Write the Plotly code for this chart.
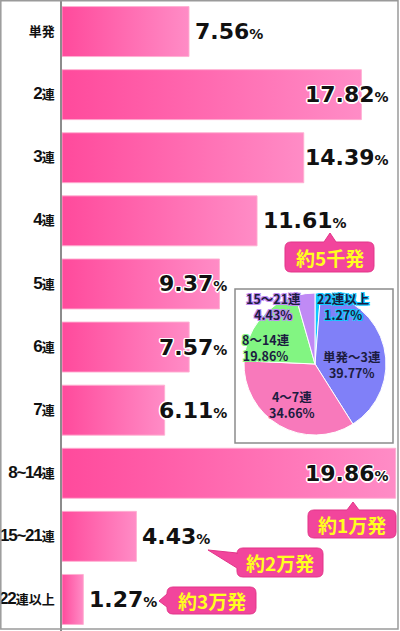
import re
import plotly.graph_objects as go

# ---------------- data ----------------
categories = ["単発", "2連", "3連", "4連", "5連", "6連", "7連", "8~14連", "15~21連", "22連以上"]
values = [7.56, 17.82, 14.39, 11.61, 9.37, 7.57, 6.11, 19.86, 4.43, 1.27]

pie_labels = ["22連以上", "単発～3連", "4～7連", "8～14連", "15～21連"]
pie_values = [1.27, 39.77, 34.66, 19.86, 4.43]

callout_texts = ["約5千発", "約1万発", "約2万発", "約3万発"]

# ---------------- geometry helpers (pixel -> paper) ----------------
W, H = 400, 631
ML, MR = 62, 2
PW = W - ML - MR


def px_x(p):
    return (p - ML) / PW


def px_y(p):
    return 1 - p / H


fig = go.Figure()

# bars with horizontal gradient
half = 0.396
for i, v in enumerate(values):
    fig.add_trace(go.Scatter(
        x=[0, v, v, 0, 0],
        y=[i - half, i - half, i + half, i + half, i - half],
        mode="lines",
        fill="toself",
        line=dict(color="rgba(255,175,210,0.9)", width=1),
        fillgradient=dict(type="horizontal",
                          colorscale=[[0, "#ff4a9c"], [1, "#ff8cc6"]]),
        hoverinfo="skip",
        showlegend=False,
    ))

# value labels
placement = ["after", "inside", "inside", "after", "box", "box", "box", "inside", "after", "after"]
outline_w = ("1px 1px 0 #fff, -1px -1px 0 #fff, 1px -1px 0 #fff, -1px 1px 0 #fff, "
             "0 1.5px 0 #fff, 0 -1.5px 0 #fff, 1.5px 0 0 #fff, -1.5px 0 0 #fff")
annotations = []
for i, (v, pl) in enumerate(zip(values, placement)):
    txt = f"{v:.2f}<span style='font-size:14px'>%</span>"
    base = dict(text=txt, y=i, yref="y", yanchor="middle", showarrow=False,
                font=dict(family="DejaVu Sans", size=22, color="#111", weight="bold",
                          shadow=outline_w))
    if pl == "after":
        base.update(x=v, xref="x", xanchor="left", xshift=4)
    elif pl == "inside":
        base.update(x=px_x(391), xref="paper", xanchor="right")
    else:
        base.update(x=px_x(229), xref="paper", xanchor="right")
    annotations.append(base)

# pie inset box + outer frame
shapes = [
    dict(type="rect", xref="paper", yref="paper",
         x0=px_x(235), x1=px_x(393), y0=px_y(443), y1=px_y(289),
         fillcolor="white", line=dict(color="#8c8c8c", width=1.5), layer="below"),
    dict(type="rect", xref="paper", yref="paper",
         x0=px_x(0.8), x1=px_x(398), y0=px_y(629), y1=px_y(0.8),
         fillcolor="rgba(0,0,0,0)", line=dict(color="#9a9a9a", width=1.5), layer="above"),
]

pie_colors = ["#10c8ff", "#8080f8", "#f879bb", "#82f582", "#c08af5"]
fig.add_trace(go.Pie(
    values=pie_values, labels=pie_labels, sort=False, direction="clockwise",
    rotation=0, textinfo="none", hoverinfo="skip", showlegend=False,
    marker=dict(colors=pie_colors, line=dict(color="white", width=1)),
    domain=dict(x=[px_x(244), px_x(386)], y=[px_y(435), px_y(293)]),
))

pie_label_pos = [(343, 306), (352, 364), (292, 404), (266, 347), (273, 306)]
for lab, val, col, (cx, cy) in zip(pie_labels, pie_values, pie_colors, pie_label_pos):
    sh = f"1px 1px 0 {col}, -1px -1px 0 {col}, 1px -1px 0 {col}, -1px 1px 0 {col}"
    annotations.append(dict(
        text=f"{lab}<br>{val:.2f}%", x=px_x(cx), y=px_y(cy), xref="paper", yref="paper",
        xanchor="center", yanchor="middle", showarrow=False, align="center",
        font=dict(family="Noto Sans CJK JP", size=12.5, color="#1c1c40", weight="bold", shadow=sh),
    ))


# callouts (rounded box + pointer)
def callout_path(x0, y0, x1, y1, r, pointer):
    kind = pointer[0]
    cmds = [("M", x0 + r, y0)]
    if kind == "up":
        _, bx0, bx1, tx, ty = pointer
        cmds += [("L", bx0, y0), ("L", tx, ty), ("L", bx1, y0)]
    cmds += [("L", x1 - r, y0), ("Q", x1, y0, x1, y0 + r), ("L", x1, y1 - r),
             ("Q", x1, y1, x1 - r, y1), ("L", x0 + r, y1), ("Q", x0, y1, x0, y1 - r)]
    if kind == "left":
        _, by0, by1, tx, ty = pointer
        cmds += [("L", x0, by1), ("L", tx, ty), ("L", x0, by0)]
    cmds += [("L", x0, y0 + r), ("Q", x0, y0, x0 + r, y0)]
    s = ""
    for c in cmds:
        op = c[0]
        coords = c[1:]
        parts = []
        for k in range(0, len(coords), 2):
            parts.append(f"{px_x(coords[k]):.5f},{px_y(coords[k + 1]):.5f}")
        s += op + " " + " ".join(parts) + " "
    return s + "Z"


callout_boxes = [
    (285, 242, 374, 272, ("up", 324, 336, 330, 233)),
    (308, 510, 396, 538, ("up", 347, 359, 353, 502)),
    (237, 548, 323, 577, ("left", 553, 568, 208, 550)),
    (167, 587, 256, 614, ("left", 594, 607, 159, 601)),
]
for txt, (x0, y0, x1, y1, ptr) in zip(callout_texts, callout_boxes):
    shapes.append(dict(type="path", xref="paper", yref="paper",
                       path=callout_path(x0, y0, x1, y1, 6, ptr),
                       fillcolor="#f2459c", line=dict(color="#e23589", width=1),
                       layer="above"))
    annotations.append(dict(
        text=txt, x=px_x((x0 + x1) / 2), y=px_y((y0 + y1) / 2), xref="paper", yref="paper",
        xanchor="center", yanchor="middle", showarrow=False,
        font=dict(family="Noto Sans CJK JP", size=19, color="#ffff1e", weight="bold"),
    ))

# tick labels: larger tight digits, smaller kanji
tick_text = [re.sub(r"([0-9~]+)",
                    r"<span style='font-family:Liberation Sans;font-size:17px;letter-spacing:-1.2px'>\1</span>",
                    c)
             for c in categories]

fig.update_layout(
    width=W, height=H,
    margin=dict(l=ML, r=MR, t=0, b=0, autoexpand=False),
    paper_bgcolor="white", plot_bgcolor="white",
    xaxis=dict(range=[0, 20], visible=False, fixedrange=True),
    yaxis=dict(range=[9.5, -0.5], tickmode="array", tickvals=list(range(len(categories))),
               ticktext=tick_text, showgrid=False, zeroline=False, ticks="",
               automargin=False, fixedrange=True,
               showline=True, linecolor="#8c8c8c", linewidth=1.5, ticklabelstandoff=3,
               tickfont=dict(family="Noto Sans CJK JP", size=13, color="#111", weight="bold")),
    shapes=shapes,
    annotations=annotations,
    showlegend=False,
)

fig.write_html("out.html", config={"displayModeBar": False},
               post_script="document.body.style.margin='0';")
